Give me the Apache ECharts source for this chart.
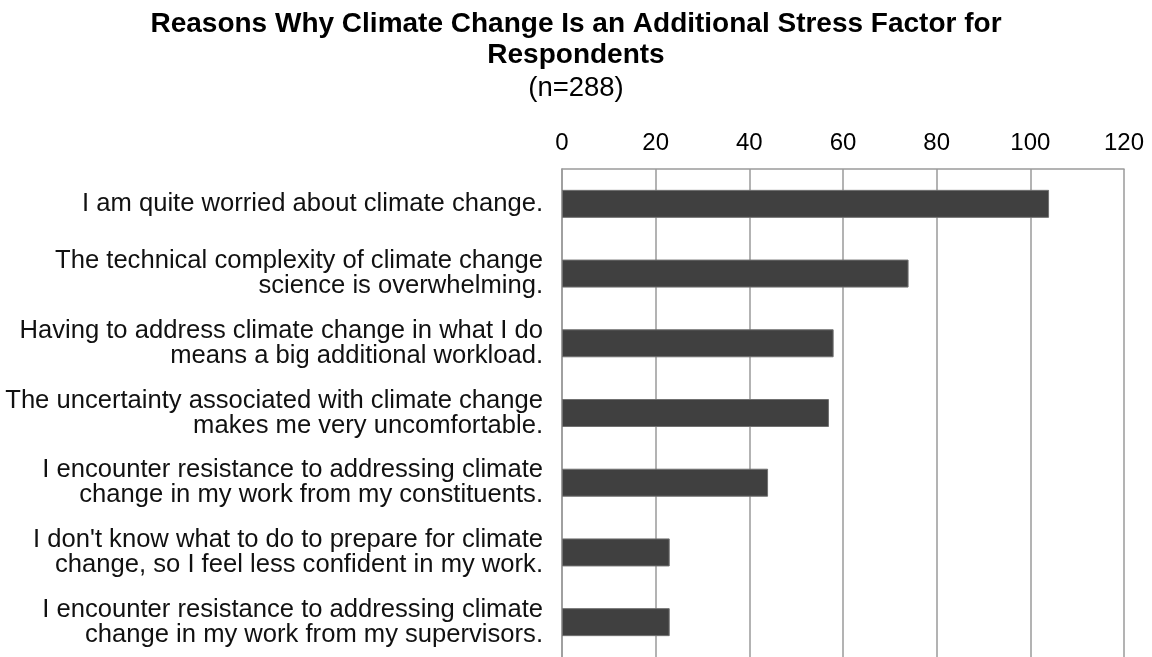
<!DOCTYPE html>
<html>
<head>
<meta charset="utf-8">
<script src="https://cdn.jsdelivr.net/npm/echarts@6/dist/echarts.min.js"></script>
<style>
html,body{margin:0;padding:0;background:#fff;}
#chart{width:1152px;height:657px;}
</style>
</head>
<body>
<div id="chart"></div>
<script>
const titleText = "Reasons Why Climate Change Is an Additional Stress Factor for\nRespondents";
const subtitleText = "(n=288)";
const categories = [
  "I am quite worried about climate change.",
  "The technical complexity of climate change\nscience is overwhelming.",
  "Having to address climate change in what I do\nmeans a big additional workload.",
  "The uncertainty associated with climate change\nmakes me very uncomfortable.",
  "I encounter resistance to addressing climate\nchange in my work from my constituents.",
  "I don't know what to do to prepare for climate\nchange, so I feel less confident in my work.",
  "I encounter resistance to addressing climate\nchange in my work from my supervisors."
];
const values = [104, 74, 58, 57, 44, 23, 23];
const axisMin = 0, axisMax = 120, axisInterval = 20;

const chart = echarts.init(document.getElementById('chart'), null, {renderer: 'canvas'});
const font = "'Liberation Sans', Arial, sans-serif";
chart.setOption({
  animation: false,
  backgroundColor: '#ffffff',
  title: {
    text: titleText,
    subtext: subtitleText,
    left: 'center',
    top: 4,
    itemGap: 3,
    textStyle: {fontFamily: font, fontSize: 28, fontWeight: 'bold', color: '#000', lineHeight: 31},
    subtextStyle: {fontFamily: font, fontSize: 27.5, color: '#000', lineHeight: 28}
  },
  grid: {left: 562, right: 28, top: 169, height: 492, containLabel: false},
  xAxis: {
    type: 'value',
    position: 'top',
    min: axisMin, max: axisMax, interval: axisInterval,
    axisLine: {show: true, lineStyle: {color: '#9a9a9a', width: 1.5}},
    axisTick: {show: false},
    axisLabel: {fontFamily: font, fontSize: 24, color: '#000', margin: 14},
    splitLine: {show: true, lineStyle: {color: '#9a9a9a', width: 1.5}}
  },
  yAxis: {
    type: 'category',
    inverse: true,
    data: categories,
    axisLine: {show: true, lineStyle: {color: '#9a9a9a', width: 1.5}},
    axisTick: {show: false},
    axisLabel: {fontFamily: font, fontSize: 25.6, color: '#111', margin: 19, lineHeight: 25, align: 'right'}
  },
  series: [{
    type: 'bar',
    data: values,
    barWidth: 28,
    itemStyle: {color: '#404040', borderColor: '#707070', borderWidth: 1}
  }]
});
</script>
</body>
</html>
